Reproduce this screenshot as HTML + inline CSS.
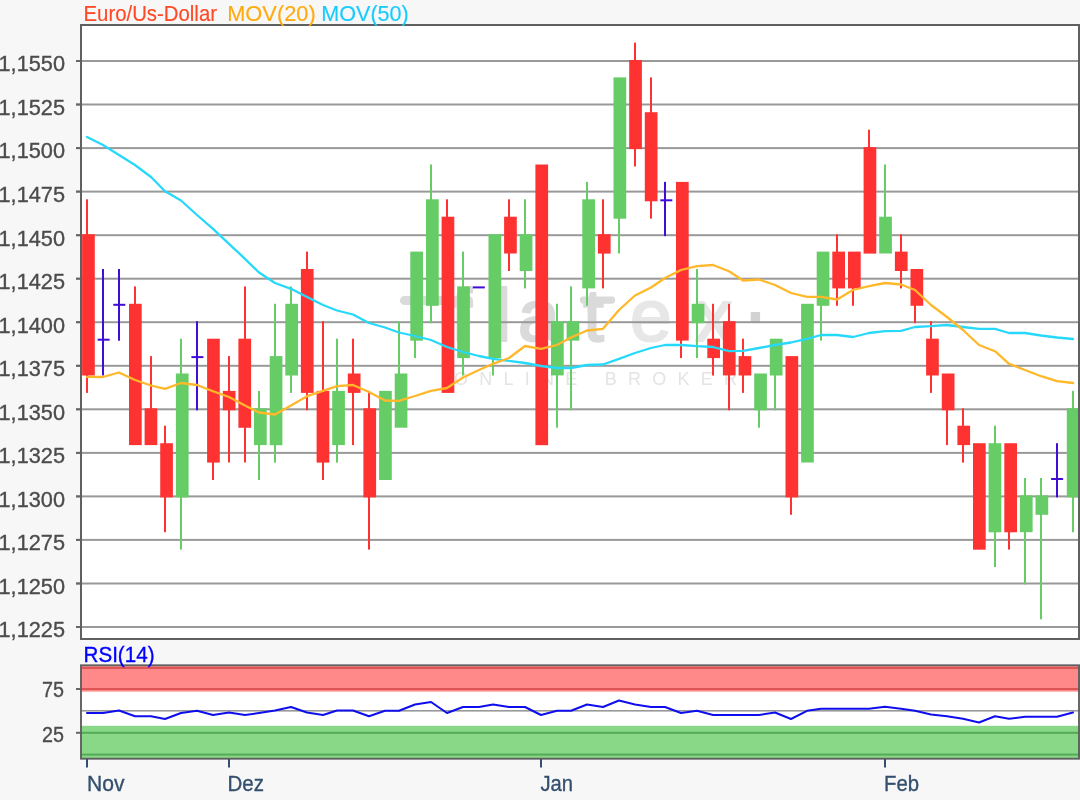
<!DOCTYPE html>
<html lang="de"><head><meta charset="utf-8"><title>Euro/Us-Dollar Chart</title>
<style>html,body{margin:0;padding:0;background:#f7f7f7;overflow:hidden}body{width:1080px;height:800px}svg{display:block}text{font-family:"Liberation Sans",Arial,Helvetica,sans-serif;font-size:22px}</style></head><body>
<svg width="1080" height="800" viewBox="0 0 1080 800">
<defs><filter id="bl" x="-2%" y="-2%" width="104%" height="104%"><feGaussianBlur stdDeviation="0.5"/></filter></defs>
<rect x="0" y="0" width="1080" height="800" fill="#f7f7f7"/>
<g filter="url(#bl)">
<rect x="81" y="25" width="999" height="614" fill="#ffffff"/>
<g fill="#dadada" stroke="#dadada" stroke-width="2.2" stroke-linejoin="round"><rect x="401" y="297.2" width="71" height="6.6" rx="3.3"/><rect x="581" y="297.6" width="33" height="5" rx="2"/><text style="font-size:75px" y="341"><tspan x="451 494.5 518 583">flat</tspan><tspan x="630 695" fill="#e7e7e7" stroke="#e7e7e7">ex</tspan><tspan x="745" y="321" fill="#d2d2d2" stroke="#d2d2d2">.</tspan></text></g><g fill="#e4e4e4"><text x="454" y="384.5" style="font-size:18px" textLength="283" lengthAdjust="spacing">ONLINE BROKER</text></g>
<rect x="76" y="60.0" width="1004" height="2" fill="#999999"/>
<rect x="76" y="103.5" width="1004" height="2" fill="#999999"/>
<rect x="76" y="147.1" width="1004" height="2" fill="#999999"/>
<rect x="76" y="190.6" width="1004" height="2" fill="#999999"/>
<rect x="76" y="234.2" width="1004" height="2" fill="#999999"/>
<rect x="76" y="277.7" width="1004" height="2" fill="#999999"/>
<rect x="76" y="321.2" width="1004" height="2" fill="#999999"/>
<rect x="76" y="364.8" width="1004" height="2" fill="#999999"/>
<rect x="76" y="408.3" width="1004" height="2" fill="#999999"/>
<rect x="76" y="451.9" width="1004" height="2" fill="#999999"/>
<rect x="76" y="495.4" width="1004" height="2" fill="#999999"/>
<rect x="76" y="538.9" width="1004" height="2" fill="#999999"/>
<rect x="76" y="582.5" width="1004" height="2" fill="#999999"/>
<rect x="76" y="626.0" width="1004" height="2" fill="#999999"/>
<rect x="76" y="60.0" width="5" height="2" fill="#666666"/>
<rect x="76" y="103.5" width="5" height="2" fill="#666666"/>
<rect x="76" y="147.1" width="5" height="2" fill="#666666"/>
<rect x="76" y="190.6" width="5" height="2" fill="#666666"/>
<rect x="76" y="234.2" width="5" height="2" fill="#666666"/>
<rect x="76" y="277.7" width="5" height="2" fill="#666666"/>
<rect x="76" y="321.2" width="5" height="2" fill="#666666"/>
<rect x="76" y="364.8" width="5" height="2" fill="#666666"/>
<rect x="76" y="408.3" width="5" height="2" fill="#666666"/>
<rect x="76" y="451.9" width="5" height="2" fill="#666666"/>
<rect x="76" y="495.4" width="5" height="2" fill="#666666"/>
<rect x="76" y="538.9" width="5" height="2" fill="#666666"/>
<rect x="76" y="582.5" width="5" height="2" fill="#666666"/>
<rect x="76" y="626.0" width="5" height="2" fill="#666666"/>
<rect x="86" y="199.3" width="2" height="36.8" fill="#ff3333"/>
<rect x="86" y="373.5" width="2" height="19.4" fill="#ff3333"/>
<rect x="82.1" y="234.2" width="12.7" height="141.3" fill="#ff3333"/>
<rect x="102" y="269.0" width="2" height="106.5" fill="#4010d8"/>
<rect x="97.6" y="338.7" width="12" height="2" fill="#4010d8"/>
<rect x="118" y="269.0" width="2" height="71.7" fill="#4010d8"/>
<rect x="113.3" y="303.8" width="12" height="2" fill="#4010d8"/>
<rect x="134" y="286.4" width="2" height="19.4" fill="#ff3333"/>
<rect x="129.0" y="303.8" width="12.7" height="141.3" fill="#ff3333"/>
<rect x="150" y="356.1" width="2" height="54.2" fill="#ff3333"/>
<rect x="144.6" y="408.3" width="12.7" height="36.8" fill="#ff3333"/>
<rect x="164" y="425.7" width="2" height="19.4" fill="#ff3333"/>
<rect x="164" y="495.4" width="2" height="36.8" fill="#ff3333"/>
<rect x="160.2" y="443.2" width="12.7" height="54.2" fill="#ff3333"/>
<rect x="180" y="338.7" width="2" height="36.8" fill="#66cc66"/>
<rect x="180" y="495.4" width="2" height="54.2" fill="#66cc66"/>
<rect x="175.9" y="373.5" width="12.7" height="123.9" fill="#66cc66"/>
<rect x="196" y="321.2" width="2" height="89.1" fill="#4010d8"/>
<rect x="191.4" y="356.1" width="12" height="2" fill="#4010d8"/>
<rect x="212" y="460.6" width="2" height="19.4" fill="#ff3333"/>
<rect x="207.1" y="338.7" width="12.7" height="123.9" fill="#ff3333"/>
<rect x="228" y="356.1" width="2" height="36.8" fill="#ff3333"/>
<rect x="228" y="408.3" width="2" height="54.2" fill="#ff3333"/>
<rect x="222.8" y="390.9" width="12.7" height="19.4" fill="#ff3333"/>
<rect x="244" y="286.4" width="2" height="54.2" fill="#ff3333"/>
<rect x="244" y="425.7" width="2" height="36.8" fill="#ff3333"/>
<rect x="238.4" y="338.7" width="12.7" height="89.1" fill="#ff3333"/>
<rect x="258" y="390.9" width="2" height="19.4" fill="#66cc66"/>
<rect x="258" y="443.2" width="2" height="36.8" fill="#66cc66"/>
<rect x="254.0" y="408.3" width="12.7" height="36.8" fill="#66cc66"/>
<rect x="274" y="303.8" width="2" height="54.2" fill="#66cc66"/>
<rect x="274" y="443.2" width="2" height="19.4" fill="#66cc66"/>
<rect x="269.7" y="356.1" width="12.7" height="89.1" fill="#66cc66"/>
<rect x="290" y="286.4" width="2" height="19.4" fill="#66cc66"/>
<rect x="290" y="373.5" width="2" height="19.4" fill="#66cc66"/>
<rect x="285.3" y="303.8" width="12.7" height="71.7" fill="#66cc66"/>
<rect x="306" y="251.6" width="2" height="19.4" fill="#ff3333"/>
<rect x="306" y="390.9" width="2" height="19.4" fill="#ff3333"/>
<rect x="300.9" y="269.0" width="12.7" height="123.9" fill="#ff3333"/>
<rect x="322" y="321.2" width="2" height="71.7" fill="#ff3333"/>
<rect x="322" y="460.6" width="2" height="19.4" fill="#ff3333"/>
<rect x="316.6" y="390.9" width="12.7" height="71.7" fill="#ff3333"/>
<rect x="336" y="338.7" width="2" height="54.2" fill="#66cc66"/>
<rect x="336" y="443.2" width="2" height="19.4" fill="#66cc66"/>
<rect x="332.2" y="390.9" width="12.7" height="54.2" fill="#66cc66"/>
<rect x="352" y="338.7" width="2" height="36.8" fill="#ff3333"/>
<rect x="352" y="390.9" width="2" height="54.2" fill="#ff3333"/>
<rect x="347.8" y="373.5" width="12.7" height="19.4" fill="#ff3333"/>
<rect x="368" y="390.9" width="2" height="19.4" fill="#ff3333"/>
<rect x="368" y="495.4" width="2" height="54.2" fill="#ff3333"/>
<rect x="363.4" y="408.3" width="12.7" height="89.1" fill="#ff3333"/>
<rect x="379.1" y="390.9" width="12.7" height="89.1" fill="#66cc66"/>
<rect x="398" y="321.2" width="2" height="54.2" fill="#66cc66"/>
<rect x="394.7" y="373.5" width="12.7" height="54.2" fill="#66cc66"/>
<rect x="414" y="338.7" width="2" height="19.4" fill="#66cc66"/>
<rect x="410.3" y="251.6" width="12.7" height="89.1" fill="#66cc66"/>
<rect x="430" y="164.5" width="2" height="36.8" fill="#66cc66"/>
<rect x="430" y="303.8" width="2" height="19.4" fill="#66cc66"/>
<rect x="426.0" y="199.3" width="12.7" height="106.5" fill="#66cc66"/>
<rect x="446" y="199.3" width="2" height="19.4" fill="#ff3333"/>
<rect x="441.6" y="216.7" width="12.7" height="176.2" fill="#ff3333"/>
<rect x="462" y="251.6" width="2" height="36.8" fill="#66cc66"/>
<rect x="462" y="356.1" width="2" height="19.4" fill="#66cc66"/>
<rect x="457.2" y="286.4" width="12.7" height="71.7" fill="#66cc66"/>
<rect x="472.8" y="286.4" width="12" height="2" fill="#4010d8"/>
<rect x="492" y="356.1" width="2" height="19.4" fill="#66cc66"/>
<rect x="488.5" y="234.2" width="12.7" height="123.9" fill="#66cc66"/>
<rect x="508" y="199.3" width="2" height="19.4" fill="#ff3333"/>
<rect x="508" y="251.6" width="2" height="19.4" fill="#ff3333"/>
<rect x="504.1" y="216.7" width="12.7" height="36.8" fill="#ff3333"/>
<rect x="524" y="199.3" width="2" height="36.8" fill="#66cc66"/>
<rect x="524" y="269.0" width="2" height="19.4" fill="#66cc66"/>
<rect x="519.7" y="234.2" width="12.7" height="36.8" fill="#66cc66"/>
<rect x="535.4" y="164.5" width="12.7" height="280.7" fill="#ff3333"/>
<rect x="556" y="303.8" width="2" height="19.4" fill="#66cc66"/>
<rect x="556" y="373.5" width="2" height="54.2" fill="#66cc66"/>
<rect x="551.0" y="321.2" width="12.7" height="54.2" fill="#66cc66"/>
<rect x="570" y="286.4" width="2" height="36.8" fill="#66cc66"/>
<rect x="570" y="338.7" width="2" height="71.7" fill="#66cc66"/>
<rect x="566.6" y="321.2" width="12.7" height="19.4" fill="#66cc66"/>
<rect x="586" y="181.9" width="2" height="19.4" fill="#66cc66"/>
<rect x="586" y="286.4" width="2" height="19.4" fill="#66cc66"/>
<rect x="582.3" y="199.3" width="12.7" height="89.1" fill="#66cc66"/>
<rect x="602" y="199.3" width="2" height="36.8" fill="#ff3333"/>
<rect x="602" y="251.6" width="2" height="36.8" fill="#ff3333"/>
<rect x="597.9" y="234.2" width="12.7" height="19.4" fill="#ff3333"/>
<rect x="618" y="216.7" width="2" height="36.8" fill="#66cc66"/>
<rect x="613.5" y="77.4" width="12.7" height="141.3" fill="#66cc66"/>
<rect x="634" y="42.6" width="2" height="19.4" fill="#ff3333"/>
<rect x="634" y="147.1" width="2" height="19.4" fill="#ff3333"/>
<rect x="629.2" y="60.0" width="12.7" height="89.1" fill="#ff3333"/>
<rect x="650" y="77.4" width="2" height="36.8" fill="#ff3333"/>
<rect x="650" y="199.3" width="2" height="19.4" fill="#ff3333"/>
<rect x="644.8" y="112.2" width="12.7" height="89.1" fill="#ff3333"/>
<rect x="664" y="181.9" width="2" height="54.2" fill="#4010d8"/>
<rect x="660.3" y="199.3" width="12" height="2" fill="#4010d8"/>
<rect x="680" y="338.7" width="2" height="19.4" fill="#ff3333"/>
<rect x="676.0" y="181.9" width="12.7" height="158.7" fill="#ff3333"/>
<rect x="696" y="269.0" width="2" height="36.8" fill="#66cc66"/>
<rect x="696" y="321.2" width="2" height="36.8" fill="#66cc66"/>
<rect x="691.7" y="303.8" width="12.7" height="19.4" fill="#66cc66"/>
<rect x="712" y="303.8" width="2" height="36.8" fill="#ff3333"/>
<rect x="712" y="356.1" width="2" height="19.4" fill="#ff3333"/>
<rect x="707.3" y="338.7" width="12.7" height="19.4" fill="#ff3333"/>
<rect x="728" y="303.8" width="2" height="19.4" fill="#ff3333"/>
<rect x="728" y="373.5" width="2" height="36.8" fill="#ff3333"/>
<rect x="722.9" y="321.2" width="12.7" height="54.2" fill="#ff3333"/>
<rect x="742" y="338.7" width="2" height="19.4" fill="#ff3333"/>
<rect x="742" y="373.5" width="2" height="19.4" fill="#ff3333"/>
<rect x="738.6" y="356.1" width="12.7" height="19.4" fill="#ff3333"/>
<rect x="758" y="408.3" width="2" height="19.4" fill="#66cc66"/>
<rect x="754.2" y="373.5" width="12.7" height="36.8" fill="#66cc66"/>
<rect x="774" y="373.5" width="2" height="36.8" fill="#66cc66"/>
<rect x="769.8" y="338.7" width="12.7" height="36.8" fill="#66cc66"/>
<rect x="790" y="495.4" width="2" height="19.4" fill="#ff3333"/>
<rect x="785.5" y="356.1" width="12.7" height="141.3" fill="#ff3333"/>
<rect x="801.1" y="303.8" width="12.7" height="158.7" fill="#66cc66"/>
<rect x="820" y="303.8" width="2" height="36.8" fill="#66cc66"/>
<rect x="816.7" y="251.6" width="12.7" height="54.2" fill="#66cc66"/>
<rect x="836" y="234.2" width="2" height="19.4" fill="#ff3333"/>
<rect x="836" y="286.4" width="2" height="19.4" fill="#ff3333"/>
<rect x="832.3" y="251.6" width="12.7" height="36.8" fill="#ff3333"/>
<rect x="852" y="286.4" width="2" height="19.4" fill="#ff3333"/>
<rect x="848.0" y="251.6" width="12.7" height="36.8" fill="#ff3333"/>
<rect x="868" y="129.7" width="2" height="19.4" fill="#ff3333"/>
<rect x="863.6" y="147.1" width="12.7" height="106.5" fill="#ff3333"/>
<rect x="884" y="164.5" width="2" height="54.2" fill="#66cc66"/>
<rect x="879.2" y="216.7" width="12.7" height="36.8" fill="#66cc66"/>
<rect x="900" y="234.2" width="2" height="19.4" fill="#ff3333"/>
<rect x="900" y="269.0" width="2" height="19.4" fill="#ff3333"/>
<rect x="894.9" y="251.6" width="12.7" height="19.4" fill="#ff3333"/>
<rect x="914" y="303.8" width="2" height="19.4" fill="#ff3333"/>
<rect x="910.5" y="269.0" width="12.7" height="36.8" fill="#ff3333"/>
<rect x="930" y="321.2" width="2" height="19.4" fill="#ff3333"/>
<rect x="930" y="373.5" width="2" height="19.4" fill="#ff3333"/>
<rect x="926.1" y="338.7" width="12.7" height="36.8" fill="#ff3333"/>
<rect x="946" y="408.3" width="2" height="36.8" fill="#ff3333"/>
<rect x="941.8" y="373.5" width="12.7" height="36.8" fill="#ff3333"/>
<rect x="962" y="408.3" width="2" height="19.4" fill="#ff3333"/>
<rect x="962" y="443.2" width="2" height="19.4" fill="#ff3333"/>
<rect x="957.4" y="425.7" width="12.7" height="19.4" fill="#ff3333"/>
<rect x="973.0" y="443.2" width="12.7" height="106.5" fill="#ff3333"/>
<rect x="994" y="425.7" width="2" height="19.4" fill="#66cc66"/>
<rect x="994" y="530.2" width="2" height="36.8" fill="#66cc66"/>
<rect x="988.6" y="443.2" width="12.7" height="89.1" fill="#66cc66"/>
<rect x="1008" y="530.2" width="2" height="19.4" fill="#ff3333"/>
<rect x="1004.3" y="443.2" width="12.7" height="89.1" fill="#ff3333"/>
<rect x="1024" y="478.0" width="2" height="19.4" fill="#66cc66"/>
<rect x="1024" y="530.2" width="2" height="54.2" fill="#66cc66"/>
<rect x="1019.9" y="495.4" width="12.7" height="36.8" fill="#66cc66"/>
<rect x="1040" y="478.0" width="2" height="19.4" fill="#66cc66"/>
<rect x="1040" y="512.8" width="2" height="106.5" fill="#66cc66"/>
<rect x="1035.5" y="495.4" width="12.7" height="19.4" fill="#66cc66"/>
<rect x="1056" y="443.2" width="2" height="54.2" fill="#4010d8"/>
<rect x="1051.1" y="478.0" width="12" height="2" fill="#4010d8"/>
<rect x="1072" y="390.9" width="2" height="19.4" fill="#66cc66"/>
<rect x="1072" y="495.4" width="2" height="36.8" fill="#66cc66"/>
<rect x="1066.8" y="408.3" width="12.7" height="89.1" fill="#66cc66"/>
<polyline points="87,137.0 103,145.0 119,155.0 135,165.0 151,177.0 165,191.2 181,200.5 197,215.0 213,228.8 229,243.8 245,258.8 259,272.5 275,283.0 291,288.8 307,297.0 323,305.0 337,310.5 353,314.5 369,323.0 385,327.5 399,332.5 415,336.0 431,340.0 447,347.0 463,352.0 479,356.0 493,358.8 509,360.8 525,363.0 541,366.0 557,368.0 571,368.0 587,365.0 603,364.5 619,358.8 635,353.0 651,348.0 665,345.0 681,345.0 697,346.2 713,347.0 729,351.2 743,350.8 759,348.0 775,345.0 791,342.5 807,338.8 821,335.0 837,335.0 853,337.0 869,333.0 885,331.2 901,330.8 915,327.0 931,326.2 947,325.0 963,327.0 979,328.8 995,328.8 1009,333.0 1025,333.0 1041,335.5 1057,337.5 1073,339.0" fill="none" stroke="#28d8fa" stroke-width="2.3" stroke-linejoin="round" stroke-linecap="round"/>
<polyline points="87,376.8 103,377.0 119,372.5 135,380.0 151,385.5 165,388.8 181,383.0 197,385.0 213,391.2 229,397.0 245,405.5 259,412.5 275,414.5 291,405.5 307,396.2 323,390.8 337,386.2 353,385.0 369,392.0 385,400.5 399,400.8 415,396.0 431,390.8 447,388.0 463,377.5 479,370.0 493,363.8 509,358.0 525,346.0 541,348.8 557,345.0 571,337.5 587,330.5 603,328.8 619,310.0 635,295.5 651,287.5 665,278.0 681,270.0 697,266.2 713,265.0 729,271.2 743,280.5 759,279.5 775,285.0 791,293.0 807,296.8 821,296.8 837,299.5 853,290.0 869,286.2 885,283.0 901,284.5 915,290.0 931,305.0 947,317.0 963,330.0 979,345.0 995,351.2 1009,363.8 1025,370.0 1041,376.2 1057,381.2 1073,383.0" fill="none" stroke="#ffb82a" stroke-width="2.3" stroke-linejoin="round" stroke-linecap="round"/>
<rect x="81" y="25" width="998" height="614" fill="none" stroke="#606060" stroke-width="2"/>
<rect x="81" y="665" width="999" height="94" fill="#ffffff"/>
<rect x="81" y="665" width="999" height="26.6" fill="#ff8888"/>
<rect x="81" y="725.8" width="999" height="33" fill="#88d888"/>
<rect x="81" y="667" width="999" height="2" fill="#dd5555"/>
<rect x="81" y="688" width="999" height="2" fill="#dd5555"/>
<rect x="81" y="710" width="999" height="1.6" fill="#999999"/>
<rect x="81" y="731.8" width="999" height="2" fill="#55aa55"/>
<rect x="81" y="753.6" width="999" height="2" fill="#55aa55"/>
<rect x="76" y="688" width="5" height="2" fill="#666666"/>
<rect x="76" y="731.8" width="5" height="2" fill="#666666"/>
<polyline points="87,713.0 103,713.0 119,710.5 135,716.2 151,716.2 165,719.0 181,713.0 197,710.8 213,715.0 229,712.5 245,715.0 259,713.0 275,710.5 291,707.0 307,712.5 323,715.0 337,710.5 353,710.5 369,716.2 385,710.8 399,710.8 415,704.5 431,702.0 447,713.0 463,707.0 479,707.0 493,704.5 509,707.0 525,707.0 541,715.0 557,710.8 571,710.8 587,704.5 603,707.0 619,700.5 635,704.5 651,707.0 665,707.0 681,713.0 697,710.8 713,715.0 729,715.0 743,715.0 759,715.0 775,712.5 791,719.0 807,710.8 821,708.8 837,708.8 853,708.8 869,708.8 885,706.8 901,708.8 915,710.8 931,714.5 947,716.2 963,718.8 979,722.5 995,716.2 1009,718.8 1025,716.8 1041,716.8 1057,716.8 1073,712.5" fill="none" stroke="#1010ee" stroke-width="2.0" stroke-linejoin="round" stroke-linecap="round"/>
<rect x="81" y="665.3" width="998" height="93.4" fill="none" stroke="#606060" stroke-width="1.9"/>
<rect x="86" y="759" width="2" height="8.5" fill="#34506e"/>
<rect x="228" y="759" width="2" height="8.5" fill="#34506e"/>
<rect x="540" y="759" width="2" height="8.5" fill="#34506e"/>
<rect x="884" y="759" width="2" height="8.5" fill="#34506e"/>
<g stroke-width="0.35">
<text x="83.5" y="21.3" fill="#ff4a26" stroke="#ff4a26" stroke-width="0.15" textLength="133.5" lengthAdjust="spacingAndGlyphs">Euro/Us-Dollar</text>
<text x="227.2" y="21.3" fill="#ffaa11" stroke="#ffaa11" stroke-width="0.15" textLength="88.5" lengthAdjust="spacingAndGlyphs">MOV(20)</text>
<text x="321.3" y="21.3" fill="#18ccff" stroke="#18ccff" stroke-width="0.15" textLength="87.5" lengthAdjust="spacingAndGlyphs">MOV(50)</text>
<text x="-1.5" y="71.3" style="font-size:22.2px" fill="#4c4c4c" stroke="#4c4c4c" textLength="66.5" lengthAdjust="spacingAndGlyphs">1,1550</text>
<text x="-1.5" y="114.8" style="font-size:22.2px" fill="#4c4c4c" stroke="#4c4c4c" textLength="66.5" lengthAdjust="spacingAndGlyphs">1,1525</text>
<text x="-1.5" y="158.4" style="font-size:22.2px" fill="#4c4c4c" stroke="#4c4c4c" textLength="66.5" lengthAdjust="spacingAndGlyphs">1,1500</text>
<text x="-1.5" y="201.9" style="font-size:22.2px" fill="#4c4c4c" stroke="#4c4c4c" textLength="66.5" lengthAdjust="spacingAndGlyphs">1,1475</text>
<text x="-1.5" y="245.5" style="font-size:22.2px" fill="#4c4c4c" stroke="#4c4c4c" textLength="66.5" lengthAdjust="spacingAndGlyphs">1,1450</text>
<text x="-1.5" y="289.0" style="font-size:22.2px" fill="#4c4c4c" stroke="#4c4c4c" textLength="66.5" lengthAdjust="spacingAndGlyphs">1,1425</text>
<text x="-1.5" y="332.5" style="font-size:22.2px" fill="#4c4c4c" stroke="#4c4c4c" textLength="66.5" lengthAdjust="spacingAndGlyphs">1,1400</text>
<text x="-1.5" y="376.1" style="font-size:22.2px" fill="#4c4c4c" stroke="#4c4c4c" textLength="66.5" lengthAdjust="spacingAndGlyphs">1,1375</text>
<text x="-1.5" y="419.6" style="font-size:22.2px" fill="#4c4c4c" stroke="#4c4c4c" textLength="66.5" lengthAdjust="spacingAndGlyphs">1,1350</text>
<text x="-1.5" y="463.2" style="font-size:22.2px" fill="#4c4c4c" stroke="#4c4c4c" textLength="66.5" lengthAdjust="spacingAndGlyphs">1,1325</text>
<text x="-1.5" y="506.7" style="font-size:22.2px" fill="#4c4c4c" stroke="#4c4c4c" textLength="66.5" lengthAdjust="spacingAndGlyphs">1,1300</text>
<text x="-1.5" y="550.2" style="font-size:22.2px" fill="#4c4c4c" stroke="#4c4c4c" textLength="66.5" lengthAdjust="spacingAndGlyphs">1,1275</text>
<text x="-1.5" y="593.8" style="font-size:22.2px" fill="#4c4c4c" stroke="#4c4c4c" textLength="66.5" lengthAdjust="spacingAndGlyphs">1,1250</text>
<text x="-1.5" y="637.3" style="font-size:22.2px" fill="#4c4c4c" stroke="#4c4c4c" textLength="66.5" lengthAdjust="spacingAndGlyphs">1,1225</text>
<text x="42" y="697.4" fill="#4c4c4c" stroke="#4c4c4c" textLength="22" lengthAdjust="spacingAndGlyphs">75</text>
<text x="42" y="741.8" fill="#4c4c4c" stroke="#4c4c4c" textLength="22" lengthAdjust="spacingAndGlyphs">25</text>
<text x="83.5" y="662" fill="#0000ff" stroke="#0000ff" textLength="71" lengthAdjust="spacingAndGlyphs">RSI(14)</text>
<text x="87" y="791.3" fill="#34506e" stroke="#34506e" textLength="37.5" lengthAdjust="spacingAndGlyphs">Nov</text>
<text x="227.5" y="791.3" fill="#34506e" stroke="#34506e" textLength="36.5" lengthAdjust="spacingAndGlyphs">Dez</text>
<text x="540.5" y="791.3" fill="#34506e" stroke="#34506e" textLength="32.5" lengthAdjust="spacingAndGlyphs">Jan</text>
<text x="884" y="791.3" fill="#34506e" stroke="#34506e" textLength="35" lengthAdjust="spacingAndGlyphs">Feb</text>
</g>
</g>
</svg></body></html>
